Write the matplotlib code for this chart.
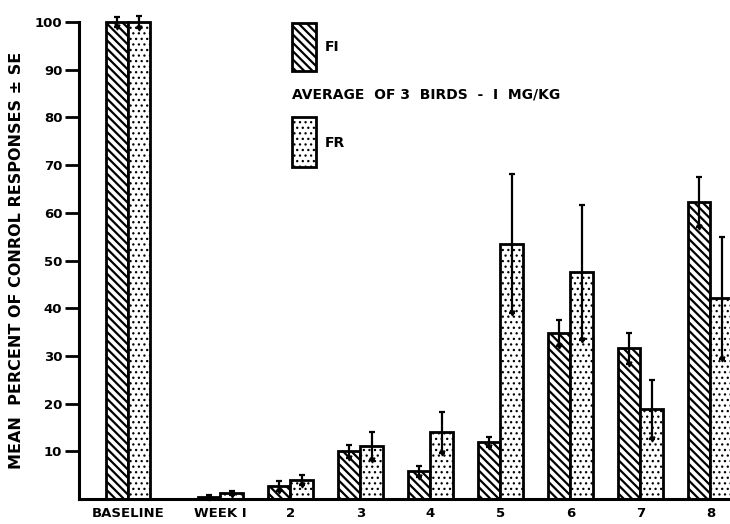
import numpy as np
import matplotlib.pyplot as plt
from matplotlib.patches import Rectangle

# categories and values
groups = ['BASELINE', 'WEEK I', '2', '3', '4', '5', '6', '7', '8']
fi_mean = [100, 0.5, 2.7, 10.0, 5.8, 12.0, 34.8, 31.6, 62.3]
fi_se = [1.0, 0.3, 1.0, 1.4, 1.2, 1.0, 2.8, 3.2, 5.3]
fr_mean = [100, 1.2, 4.0, 11.1, 14.0, 53.5, 47.5, 18.8, 42.2]
fr_se = [1.2, 0.4, 1.0, 3.0, 4.3, 14.6, 14.2, 6.2, 12.8]
yticks = [10, 20, 30, 40, 50, 60, 70, 80, 90, 100]

plt.rcParams['font.family'] = 'DejaVu Sans'
plt.rcParams['font.weight'] = 'bold'

fig = plt.figure(figsize=(7.3, 5.24), dpi=100)
ax = fig.add_axes([79 / 730, 25 / 524, 651 / 730, 477 / 524])

w = 0.32
x = np.r_[0, np.arange(1, 9) + 0.32]

# thick diagonal stripes for FI, small dots for FR
plt.rcParams['hatch.linewidth'] = 1.6
ax.bar(x - w / 2, fi_mean, w, color='white', edgecolor='black', linewidth=2,
       hatch='\\\\\\\\', clip_on=False)
fig.patches.append(Rectangle((292 / 730, 1 - 71 / 524), 24 / 730, 48 / 524,
                             transform=fig.transFigure, facecolor='white',
                             edgecolor='black', linewidth=2, hatch='\\\\\\\\'))
plt.rcParams['hatch.linewidth'] = 0.9
ax.bar(x + w / 2, fr_mean, w, color='white', edgecolor='black', linewidth=2,
       hatch='...', clip_on=False)
fig.patches.append(Rectangle((292 / 730, 1 - 167 / 524), 24 / 730, 50 / 524,
                             transform=fig.transFigure, facecolor='white',
                             edgecolor='black', linewidth=2, hatch='...'))

for off, m, s in [(-w / 2, fi_mean, fi_se), (w / 2, fr_mean, fr_se)]:
    m = np.array(m)
    s = np.array(s)
    ax.errorbar(x + off, m, yerr=s, fmt='none', ecolor='black', elinewidth=1.6,
                capsize=2.5, capthick=1.6, clip_on=False)
    ax.plot(x + off, m - s, 'v', color='black', markersize=3.5, clip_on=False)

ax.set_xlim(-0.70, 8.6)
ax.set_ylim(0, 100)
ax.set_yticks(yticks)
ax.set_yticklabels([str(t) for t in yticks], fontsize=9.5, fontweight='bold')
ax.set_xticks(x)
ax.set_xticklabels(groups, fontsize=9.5, fontweight='bold')
ax.tick_params(axis='x', length=0, pad=6)
ax.tick_params(axis='y', length=10, width=2, direction='out', pad=2)
for sp in ['top', 'right']:
    ax.spines[sp].set_visible(False)
for sp in ['left', 'bottom']:
    ax.spines[sp].set_linewidth(2.2)

ax.set_ylabel('MEAN  PERCENT OF CONROL RESPONSES \u00b1 SE', fontsize=11.5,
              fontweight='bold', labelpad=8)

# legend text
fig.text(325 / 730, 1 - 47 / 524, 'FI', fontsize=10, fontweight='bold', va='center')
fig.text(292 / 730, 1 - 95 / 524, 'AVERAGE  OF 3  BIRDS  -  I  MG/KG', fontsize=10,
         fontweight='bold', va='center')
fig.text(325 / 730, 1 - 143 / 524, 'FR', fontsize=10, fontweight='bold', va='center')

fig.savefig('out.png', dpi=100)
